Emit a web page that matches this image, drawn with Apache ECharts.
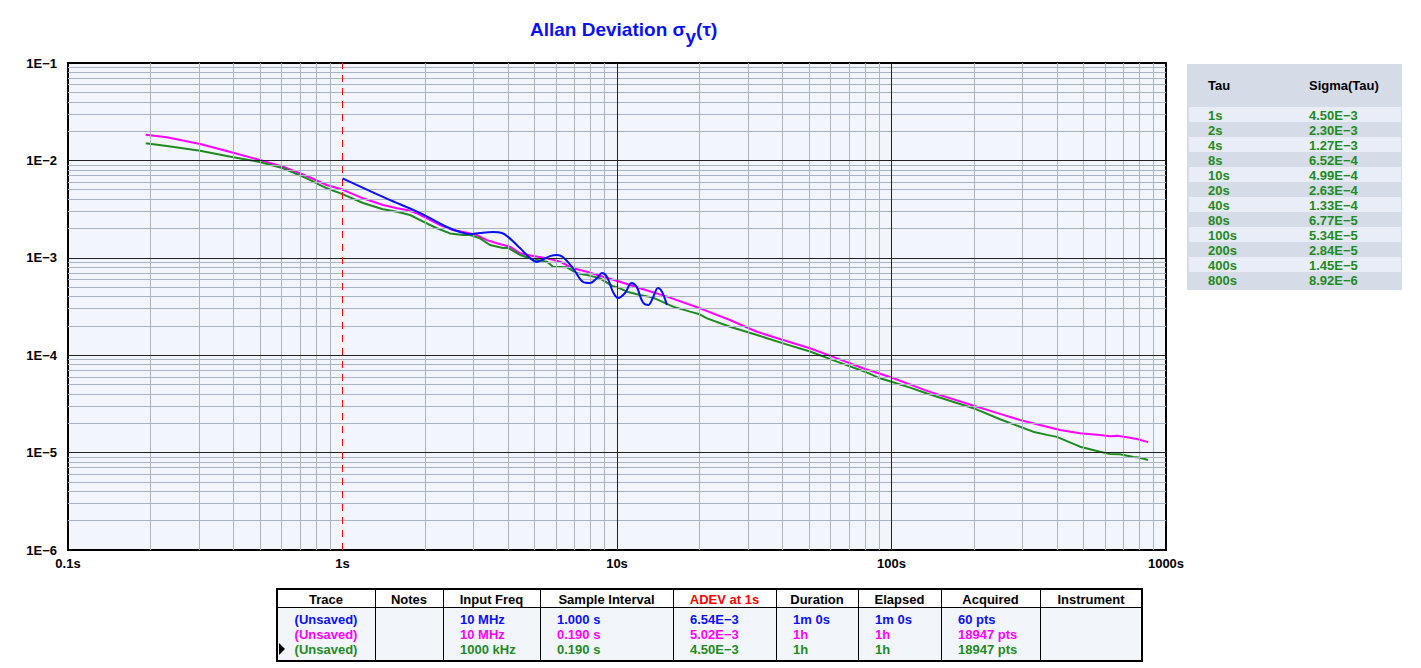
<!DOCTYPE html>
<html><head><meta charset="utf-8">
<script src="https://cdn.jsdelivr.net/npm/echarts@6/dist/echarts.min.js"></script>
<style>html,body{margin:0;padding:0;background:#fff}#c{width:1421px;height:668px}</style>
</head><body><div id="c"></div>
<script>
// ---------- data ----------
const xTickLabels = ['0.1s', '1s', '10s', '100s', '1000s'];
const yTickLabels = ['1E\u22126', '1E\u22125', '1E\u22124', '1E\u22123', '1E\u22122', '1E\u22121'];

const tauBlue = [1.0, 1.45, 1.92, 2.40, 2.68, 2.91, 3.17, 3.53, 3.81, 4.01, 4.43, 4.82, 5.11, 5.33, 5.70, 6.04, 6.35, 6.91, 7.52, 7.97, 8.46, 8.82, 9.20, 9.67, 10.1, 10.7, 11.3, 11.8, 12.4, 13.0, 13.5, 14.1, 14.6, 15.2];
const sigmaBlue = [6.54e-3, 4.05e-3, 2.88e-3, 2.07e-3, 1.84e-3, 1.75e-3, 1.80e-3, 1.84e-3, 1.80e-3, 1.64e-3, 1.26e-3, 9.95e-4, 9.06e-4, 9.5e-4, 1.04e-3, 1.07e-3, 1.02e-3, 7.85e-4, 5.65e-4, 5.51e-4, 6.2e-4, 6.98e-4, 6.35e-4, 4.46e-4, 3.86e-4, 4.35e-4, 5.51e-4, 5.0e-4, 3.52e-4, 3.27e-4, 3.86e-4, 4.9e-4, 4.46e-4, 3.27e-4];

const tauMagenta = [0.192, 0.229, 0.303, 0.400, 0.500, 0.608, 0.741, 0.876, 1.0, 1.188, 1.405, 1.580, 1.718, 1.868, 2.032, 2.266, 2.527, 2.842, 3.090, 3.360, 3.654, 4.076, 4.433, 4.943, 5.559, 6.199, 6.914, 7.776, 8.892, 10.25, 12.13, 15.21, 20.07, 25.80, 32.36, 40.24, 50.49, 63.32, 78.76, 100, 134.7, 198.2, 248.5, 293.9, 347.5, 411.1, 486.2, 574.9, 625.2, 663.1, 721.1, 784.2, 860.1];
const sigmaMagenta = [1.836e-2, 1.727e-2, 1.474e-2, 1.200e-2, 1.009e-2, 8.61e-3, 6.91e-3, 5.59e-3, 5.02e-3, 4.08e-3, 3.48e-3, 3.22e-3, 3.10e-3, 2.86e-3, 2.54e-3, 2.17e-3, 1.93e-3, 1.81e-3, 1.71e-3, 1.52e-3, 1.41e-3, 1.30e-3, 1.112e-3, 1.043e-3, 9.88e-4, 9.12e-4, 7.80e-4, 7.20e-4, 6.40e-4, 5.68e-4, 4.86e-4, 3.99e-4, 3.03e-4, 2.30e-4, 1.74e-4, 1.43e-4, 1.18e-4, 9.29e-5, 7.34e-5, 5.9e-5, 4.3e-5, 3.05e-5, 2.50e-5, 2.16e-5, 1.92e-5, 1.71e-5, 1.58e-5, 1.52e-5, 1.47e-5, 1.49e-5, 1.44e-5, 1.38e-5, 1.28e-5];

const tauGreen = [0.192, 0.229, 0.303, 0.400, 0.500, 0.608, 0.741, 0.876, 1.0, 1.188, 1.405, 1.580, 1.762, 2.0, 2.210, 2.464, 2.748, 2.914, 3.169, 3.446, 3.843, 4.0, 4.433, 4.943, 5.559, 5.846, 6.575, 7.150, 7.776, 8.0, 8.673, 9.670, 10.0, 10.88, 12.13, 13.53, 16.0, 18.45, 20.0, 21.28, 25.80, 32.36, 40.0, 50.49, 63.32, 80.0, 90.8, 100, 116.8, 134.7, 200, 248.5, 293.9, 327.8, 368.5, 400, 486.2, 574.9, 625.2, 680.0, 760, 800, 860.1];
const sigmaGreen = [1.50e-2, 1.405e-2, 1.258e-2, 1.076e-2, 9.63e-3, 8.30e-3, 6.55e-3, 5.17e-3, 4.50e-3, 3.65e-3, 3.15e-3, 2.97e-3, 2.75e-3, 2.30e-3, 2.01e-3, 1.78e-3, 1.71e-3, 1.71e-3, 1.585e-3, 1.353e-3, 1.26e-3, 1.27e-3, 1.07e-3, 9.65e-4, 9.12e-4, 8.10e-4, 7.99e-4, 6.93e-4, 6.66e-4, 6.52e-4, 6.16e-4, 5.10e-4, 4.99e-4, 4.49e-4, 4.15e-4, 3.90e-4, 3.15e-4, 2.80e-4, 2.63e-4, 2.39e-4, 1.96e-4, 1.61e-4, 1.33e-4, 1.09e-4, 8.58e-5, 6.77e-5, 5.79e-5, 5.34e-5, 4.65e-5, 4.05e-5, 2.84e-5, 2.20e-5, 1.84e-5, 1.64e-5, 1.52e-5, 1.45e-5, 1.15e-5, 1.02e-5, 9.67e-6, 9.6e-6, 9.0e-6, 8.92e-6, 8.4e-6];

// grid line positions
const minorMultipliers = [2, 3, 4, 5, 6, 7, 8, 9];
const xDecades = [0.1, 1, 10, 100];
const yDecades = [1e-6, 1e-5, 1e-4, 1e-3, 1e-2];
const xMajorLines = [10, 100];
const yMajorLines = [1e-5, 1e-4, 1e-3, 1e-2];
const xCursor = 1;

// legend table (right)
const legendTau = ['1s', '2s', '4s', '8s', '10s', '20s', '40s', '80s', '100s', '200s', '400s', '800s'];
const legendSigma = ['4.50E\u22123', '2.30E\u22123', '1.27E\u22123', '6.52E\u22124', '4.99E\u22124', '2.63E\u22124', '1.33E\u22124', '6.77E\u22125', '5.34E\u22125', '2.84E\u22125', '1.45E\u22125', '8.92E\u22126'];

// bottom table
const tableHeaders = ['Trace', 'Notes', 'Input Freq', 'Sample Interval', 'ADEV at 1s', 'Duration', 'Elapsed', 'Acquired', 'Instrument'];
const tableRows = [
  ['(Unsaved)', '', '10 MHz', '1.000 s', '6.54E\u22123', '1m 0s', '1m 0s', '60 pts', ''],
  ['(Unsaved)', '', '10 MHz', '0.190 s', '5.02E\u22123', '1h', '1h', '18947 pts', ''],
  ['(Unsaved)', '', '1000 kHz', '0.190 s', '4.50E\u22123', '1h', '1h', '18947 pts', '']
];

// ---------- styles ----------
const BLUE = '#0a10f5', MAGENTA = '#ff00ff', GREEN = '#1f8a1f';
const rowColors = [BLUE, MAGENTA, GREEN];
const FONT = '"Liberation Sans", Arial, sans-serif';
const MINOR = '#a9b3c3', MAJOR = '#222';

const chart = echarts.init(document.getElementById('c'), null, {renderer: 'svg'});

// gridline markLines
const lines = [];
xDecades.forEach(d => minorMultipliers.forEach(m => lines.push({xAxis: d * m, lineStyle: {color: MINOR, width: 1, type: 'solid'}})));
yDecades.forEach(d => minorMultipliers.forEach(m => lines.push({yAxis: d * m, lineStyle: {color: MINOR, width: 1, type: 'solid'}})));
xMajorLines.forEach(v => lines.push({xAxis: v, lineStyle: {color: MAJOR, width: 1, type: 'solid'}}));
yMajorLines.forEach(v => lines.push({yAxis: v, lineStyle: {color: MAJOR, width: 1, type: 'solid'}}));
lines.push({xAxis: xCursor, lineStyle: {color: '#ff0000', width: 1, type: [7, 6]}});

// graphics: tables
const g = [];
const txt = (x, y, text, color, align, z) => ({
  type: 'text', x: x, y: y, z: z || 10,
  style: {text: text, fill: color, font: 'bold 13px ' + FONT, align: align || 'left', verticalAlign: 'middle', textAlign: align || 'left', textVerticalAlign: 'middle'}
});
// right legend
g.push({type: 'rect', shape: {x: 1187, y: 64, width: 215, height: 226}, style: {fill: '#d5dbe7'}, z: 5});
g.push(txt(1208, 85, 'Tau', '#000'));
g.push(txt(1309, 85, 'Sigma(Tau)', '#000'));
legendTau.forEach((t, i) => {
  const y = 107 + 15 * i;
  if (i % 2 === 0) g.push({type: 'rect', shape: {x: 1189, y: y, width: 212, height: 15}, style: {fill: '#e8edf7'}, z: 6});
  g.push(txt(1208, y + 8, t, GREEN));
  g.push(txt(1309, y + 8, legendSigma[i], GREEN));
});
// bottom table
const colEdges = [277, 375, 443, 540, 673, 776, 858, 941, 1040, 1142];
const tTop = 589, tHead = 608, tBot = 661;
g.push({type: 'rect', shape: {x: colEdges[0], y: tTop, width: colEdges[9] - colEdges[0], height: tBot - tTop}, style: {fill: '#fff'}, z: 5});
g.push({type: 'rect', shape: {x: colEdges[0], y: tHead, width: colEdges[9] - colEdges[0], height: tBot - tHead}, style: {fill: '#f2f5fa'}, z: 6});
for (let i = 1; i < colEdges.length - 1; i++) {
  g.push({type: 'line', shape: {x1: colEdges[i] + 0.5, y1: tTop, x2: colEdges[i] + 0.5, y2: tBot}, style: {stroke: '#000', lineWidth: 1}, z: 8});
}
g.push({type: 'line', shape: {x1: colEdges[0], y1: tHead - 0.5, x2: colEdges[9], y2: tHead - 0.5}, style: {stroke: '#000', lineWidth: 1}, z: 8});
g.push({type: 'rect', shape: {x: colEdges[0], y: tTop, width: colEdges[9] - colEdges[0], height: tBot - tTop}, style: {fill: 'none', stroke: '#000', lineWidth: 2}, z: 9});
tableHeaders.forEach((h, i) => {
  g.push(txt((colEdges[i] + colEdges[i + 1]) / 2, 599, h, i === 4 ? '#ff0000' : '#000', 'center'));
});
tableRows.forEach((row, r) => {
  const y = 619 + 15 * r;
  row.forEach((v, i) => {
    if (!v) return;
    if (i === 0) g.push(txt((colEdges[0] + colEdges[1]) / 2, y, v, rowColors[r], 'center'));
    else g.push(txt(colEdges[i] + 17, y, v, rowColors[r], 'left'));
  });
});
g.push({type: 'polygon', shape: {points: [[279, 643], [285, 649], [279, 655]]}, style: {fill: '#000'}, z: 10});

const mk = (tau, sig) => tau.map((t, i) => [t, sig[i]]);

chart.setOption({
  animation: false,
  backgroundColor: '#fff',
  title: {
    text: 'Allan Deviation \u03c3{s|y}(\u03c4)',
    left: 525, top: 8,
    textStyle: {
      fontFamily: FONT, fontSize: 19, fontWeight: 'bold', color: BLUE,
      rich: {s: {fontFamily: FONT, fontSize: 19, fontWeight: 'bold', color: BLUE, padding: [14, 0, 0, 0]}}
    }
  },
  grid: {left: 68, top: 63, width: 1098, height: 487, show: true, backgroundColor: '#f2f6fc', borderColor: '#000', borderWidth: 2, containLabel: false, outerBoundsMode: 'none'},
  xAxis: {
    type: 'log', logBase: 10, min: 0.1, max: 1000, splitNumber: 4,
    axisLine: {show: false}, axisTick: {show: false}, splitLine: {show: false},
    axisLabel: {show: true, showMinLabel: true, showMaxLabel: true, margin: 7, color: '#000', fontFamily: FONT, fontSize: 13, fontWeight: 'bold',
      formatter: v => xTickLabels[Math.round(Math.log10(v)) + 1]}
  },
  yAxis: {
    type: 'log', logBase: 10, min: 1e-6, max: 1e-1, splitNumber: 5,
    axisLine: {show: false}, axisTick: {show: false}, splitLine: {show: false},
    axisLabel: {show: true, showMinLabel: true, showMaxLabel: true, margin: 11, color: '#000', fontFamily: FONT, fontSize: 13, fontWeight: 'bold',
      formatter: v => yTickLabels[Math.round(Math.log10(v)) + 6]}
  },
  series: [
    {type: 'line', data: [], silent: true, z: 1,
      markLine: {silent: true, precision: 12, symbol: ['none', 'none'], label: {show: false}, animation: false, data: lines}},
    {name: 'magenta', type: 'line', data: mk(tauMagenta, sigmaMagenta), showSymbol: false, symbol: 'none', z: 3, lineStyle: {color: MAGENTA, width: 2}},
    {name: 'green', type: 'line', data: mk(tauGreen, sigmaGreen), showSymbol: false, symbol: 'none', z: 4, lineStyle: {color: GREEN, width: 2}},
    {name: 'blue', type: 'line', data: mk(tauBlue, sigmaBlue), showSymbol: false, symbol: 'none', smooth: 0.35, z: 5, lineStyle: {color: BLUE, width: 2}}
  ],
  graphic: g
});
</script>
</body></html>
